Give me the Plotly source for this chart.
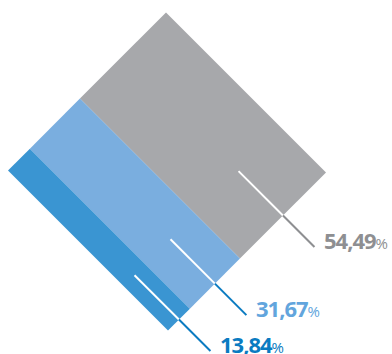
import plotly.graph_objects as go

# Data
categories = ["Gray", "Light blue", "Blue"]
shares = [54.49, 31.67, 13.84]
labels = ["54,49", "31,67", "13,84"]
band_colors = ["#a7a8ab", "#7aaedf", "#3a95d2"]
text_colors = ["#8e8f92", "#62a5dd", "#0a7bc1"]
lead_colors = ["#8e8f92", "#0a7bc1", "#0a7bc1"]

W, H = 392, 354
# rotated square geometry (pixel-like data coords)
T = (166.0, 12.5)
A = (160.0, 160.0)     # along the band length (top -> right)
Bv = (-158.0, 158.0)   # across the bands (top -> left)

def pt(s, t):
    return (T[0] + s * A[0] + t * Bv[0], T[1] + s * A[1] + t * Bv[1])

fig = go.Figure()
total = sum(shares)
cum = 0.0
annotations = []
for i, (cat, v) in enumerate(zip(categories, shares)):
    t0 = cum / total
    t1 = (cum + v) / total
    cum += v
    corners = [pt(0, t0), pt(1, t0), pt(1, t1), pt(0, t1), pt(0, t0)]
    fig.add_trace(go.Scatter(
        x=[c[0] for c in corners], y=[c[1] for c in corners],
        mode="lines", fill="toself", fillcolor=band_colors[i],
        line=dict(width=0, color=band_colors[i]), hoverinfo="skip",
        showlegend=False, name=cat))
    tm = (t0 + t1) / 2
    p0 = pt(0.7225, tm)
    p1 = pt(1.0, tm)
    p2 = (p1[0] + 31.5, p1[1] + 31.5)
    fig.add_trace(go.Scatter(x=[p0[0], p1[0]], y=[p0[1], p1[1]], mode="lines",
                             line=dict(color="white", width=2), hoverinfo="skip",
                             showlegend=False))
    fig.add_trace(go.Scatter(x=[p1[0], p2[0]], y=[p1[1], p2[1]], mode="lines",
                             line=dict(color=lead_colors[i], width=2), hoverinfo="skip",
                             showlegend=False))
    annotations.append(dict(
        x=p2[0] + 9, y=p2[1] - 7, xref="x", yref="y", xanchor="left", yanchor="middle",
        showarrow=False, borderpad=0,
        text=("<span style='font-weight:bold;letter-spacing:-1px'>" + labels[i] +
              "</span><span style='font-size:15px'> %</span>").replace(" %", "%"),
        font=dict(family="Open Sans", size=22, color=text_colors[i])))

fig.update_layout(
    width=W, height=H, margin=dict(l=0, r=0, t=0, b=0),
    paper_bgcolor="white", plot_bgcolor="white",
    xaxis=dict(range=[0, W], visible=False, fixedrange=True),
    yaxis=dict(range=[H, 0], visible=False, fixedrange=True),
    annotations=annotations, showlegend=False)

fig.write_html("out.html")
